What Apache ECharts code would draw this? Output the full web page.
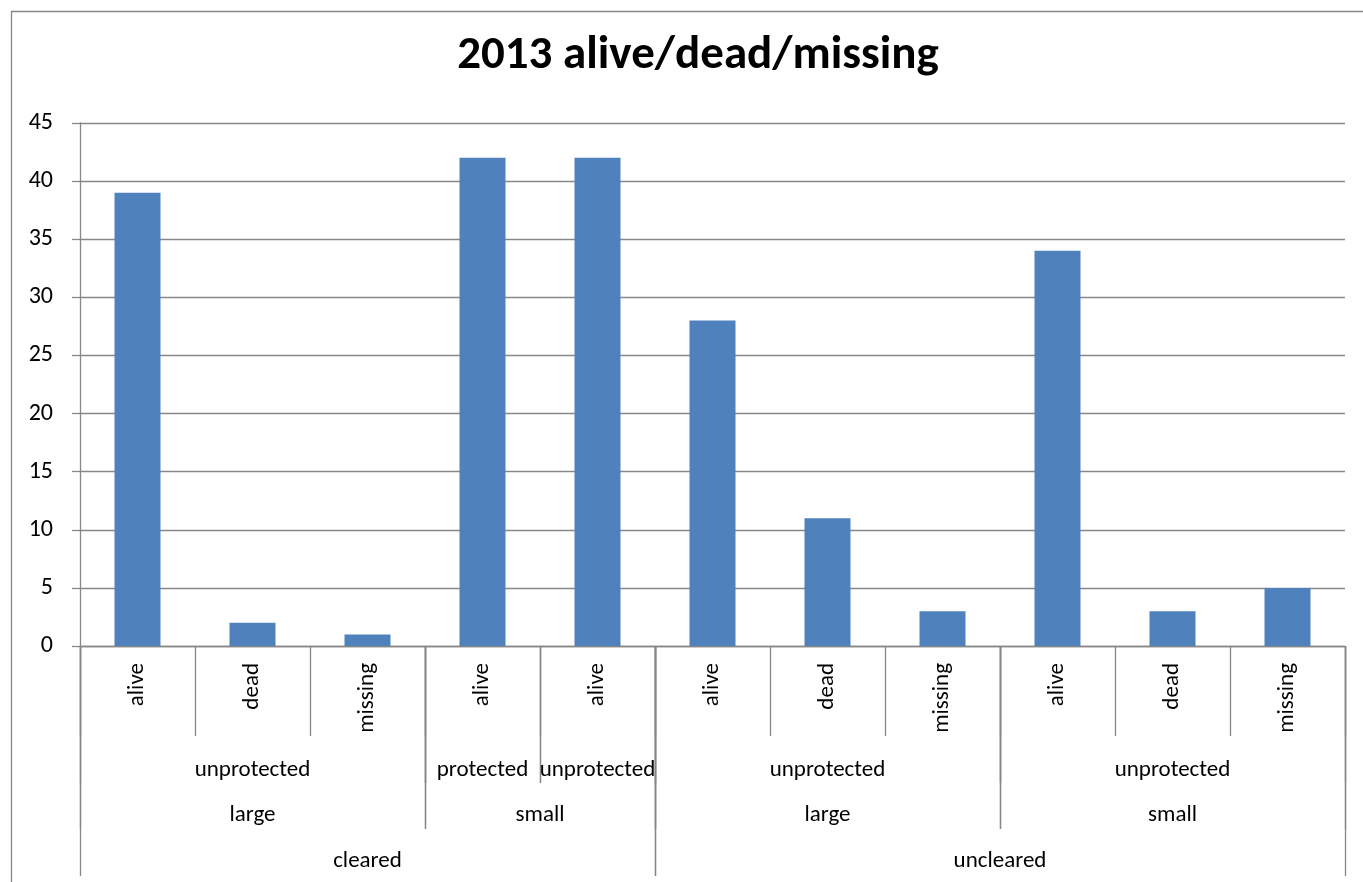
<!DOCTYPE html>
<html>
<head>
<meta charset="utf-8">
<title>2013 alive/dead/missing</title>
<script src="https://cdn.jsdelivr.net/npm/echarts@6/dist/echarts.min.js"></script>
<style>
  html, body { margin: 0; padding: 0; background: #ffffff; }
  #chart { width: 1363px; height: 882px; }
</style>
</head>
<body>
<div id="chart"></div>
<script>
// Bottom-level categories (status of each plot group)
const statusLabels = ['alive', 'dead', 'missing', 'alive', 'alive', 'alive', 'dead', 'missing', 'alive', 'dead', 'missing'];
// Counts per category
const counts = [39, 2, 1, 42, 42, 28, 11, 3, 34, 3, 5];
// Grouping levels: [label, number of categories spanned]
const protectionGroups = [['unprotected', 3], ['protected', 1], ['unprotected', 1], ['unprotected', 3], ['unprotected', 3]];
const sizeGroups = [['large', 3], ['small', 2], ['large', 3], ['small', 3]];
const clearingGroups = [['cleared', 5], ['uncleared', 6]];
// Y axis range
const yMin = 0, yMax = 45, yStep = 5;

const FONT = 'Carlito, Calibri, Lato, sans-serif';
const AXIS_GRAY = '#878787';
const LABEL_SIZE = 23;

// Turn [label, span] lists into [start, end, level, label] rows for the custom series
function spans(groups, level) {
  const rows = [];
  let pos = 0;
  groups.forEach(([label, n]) => {
    rows.push([pos, pos + n, level, label]);
    pos += n;
  });
  return rows;
}
const groupRows = [].concat(spans(protectionGroups, 2), spans(sizeGroups, 3), spans(clearingGroups, 4));

// Pixel offsets below the axis line for each label row
const rowBottom = { 2: 137, 3: 183, 4: 230 };
const rowMiddle = { 2: 124, 3: 169, 4: 215 };

const chart = echarts.init(document.getElementById('chart'), null, { renderer: 'canvas' });

chart.setOption({
  animation: false,
  backgroundColor: '#ffffff',
  title: {
    text: '2013 alive/dead/missing',
    left: 693,
    top: 28,
    textAlign: 'center',
    textStyle: { fontFamily: FONT, fontSize: 47, fontWeight: 'bold', color: '#000000' }
  },
  graphic: [{
    type: 'rect',
    silent: true,
    z: -10,
    shape: { x: 11.5, y: 11.5, width: 1400, height: 1000 },
    style: { fill: 'none', stroke: AXIS_GRAY, lineWidth: 1.3 }
  }],
  grid: { left: 80, right: 18, top: 123, bottom: 236, containLabel: false },
  xAxis: [{
    type: 'category',
    data: statusLabels,
    boundaryGap: true,
    axisLine: { show: true, lineStyle: { color: AXIS_GRAY, width: 1.3 } },
    axisTick: { show: true, interval: 0, length: 90, lineStyle: { color: AXIS_GRAY, width: 1.3 } },
    axisLabel: {
      interval: 0, rotate: 90, margin: 17,
      fontFamily: FONT, fontSize: LABEL_SIZE, color: '#000000'
    },
    splitLine: { show: false }
  }, {
    type: 'value',
    min: 0,
    max: statusLabels.length,
    show: false
  }],
  yAxis: {
    type: 'value',
    min: yMin,
    max: yMax,
    interval: yStep,
    axisLine: { show: true, lineStyle: { color: AXIS_GRAY, width: 1.3 } },
    axisTick: { show: true, length: 8, lineStyle: { color: AXIS_GRAY, width: 1.3 } },
    axisLabel: { margin: 27, fontFamily: FONT, fontSize: 24, color: '#000000' },
    splitLine: { show: true, lineStyle: { color: AXIS_GRAY, width: 1.3 } }
  },
  series: [{
    type: 'bar',
    xAxisIndex: 0,
    data: counts,
    barWidth: '40%',
    itemStyle: { color: '#4F81BD' },
    silent: true
  }, {
    // Multi-level group labels and their divider lines under the axis
    type: 'custom',
    xAxisIndex: 1,
    yAxisIndex: 0,
    silent: true,
    clip: false,
    data: groupRows,
    encode: { x: [0, 1] },
    renderItem: function (params, api) {
      const start = api.value(0), end = api.value(1), level = api.value(2);
      const label = groupRows[params.dataIndex][3];
      const p0 = api.coord([start, 0]);
      const p1 = api.coord([end, 0]);
      const base = p0[1];
      const x0 = Math.round(p0[0]) + 0.5, x1 = Math.round(p1[0]) + 0.5;
      const yb = base + rowBottom[level];
      const lineStyle = { stroke: AXIS_GRAY, lineWidth: 1.3 };
      return {
        type: 'group',
        children: [
          { type: 'line', shape: { x1: x0, y1: base, x2: x0, y2: yb }, style: lineStyle },
          { type: 'line', shape: { x1: x1, y1: base, x2: x1, y2: yb }, style: lineStyle },
          {
            type: 'text',
            style: {
              text: label,
              x: (p0[0] + p1[0]) / 2,
              y: base + rowMiddle[level],
              align: 'center',
              verticalAlign: 'middle',
              fill: '#000000',
              fontFamily: FONT,
              fontSize: LABEL_SIZE
            }
          }
        ]
      };
    }
  }]
});
</script>
</body>
</html>
